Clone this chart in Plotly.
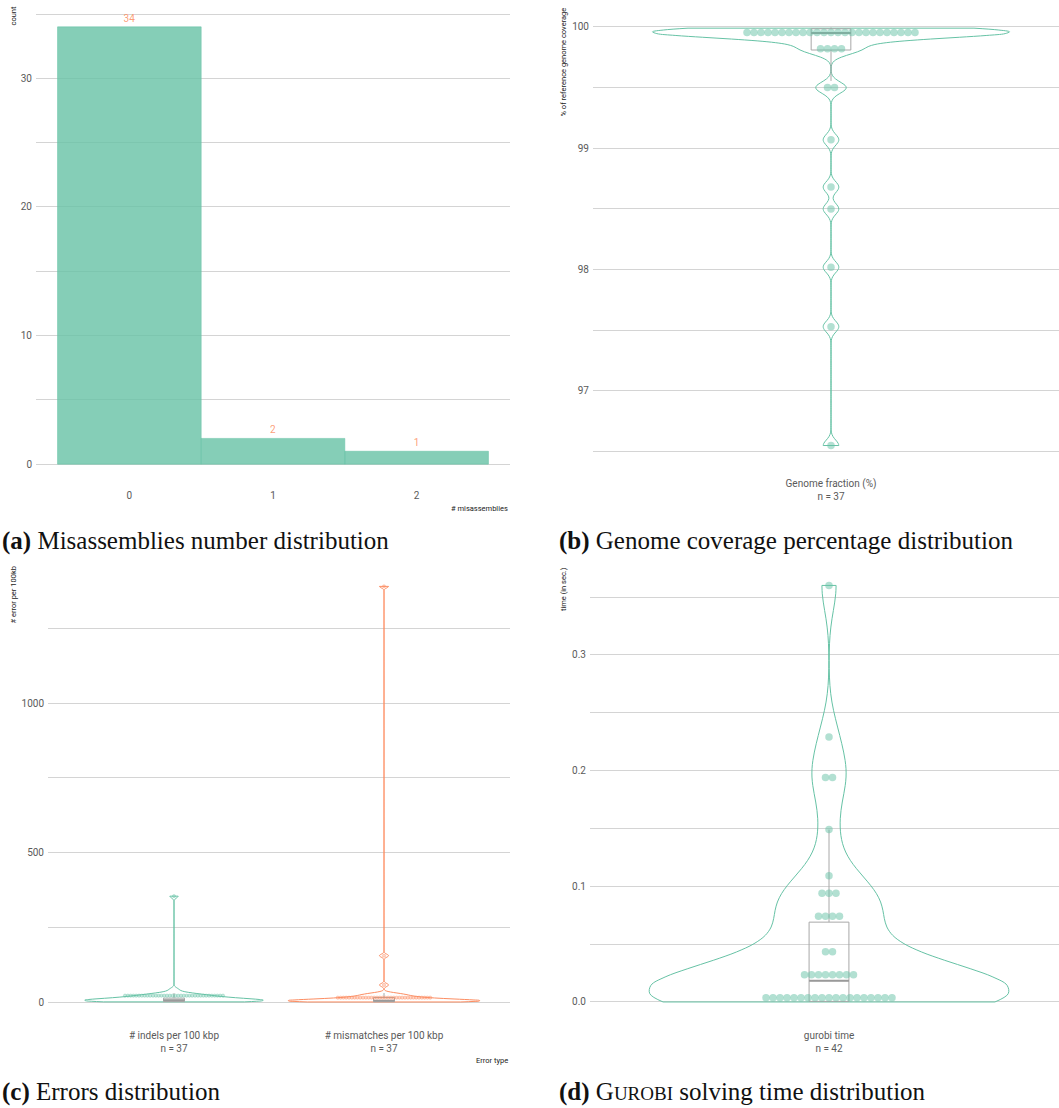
import plotly.graph_objects as go

W, H = 1059, 1108

# ---------------- data ----------------
mis_categories = [0, 1, 2]
mis_counts = [34, 2, 1]

genome_fraction = [
    99.99, 99.99, 99.98, 99.98, 99.98, 99.97, 99.97, 99.97, 99.97, 99.96,
    99.96, 99.96, 99.96, 99.96, 99.95, 99.95, 99.95, 99.95, 99.94, 99.94,
    99.94, 99.93, 99.93, 99.92, 99.92,
    99.84, 99.83, 99.81, 99.80,
    99.51, 99.49,
    99.07, 98.68, 98.50, 98.02, 97.53, 96.55,
]
genome_box = dict(q1=99.81, median=99.95, q3=99.985, lowerfence=99.555, upperfence=99.995)

error_types = ["# indels per 100 kbp", "# mismatches per 100 kbp"]
indels = [0.5, 1, 1, 1.5, 2, 2, 2.5, 3, 3, 3.5, 4, 4, 5, 5, 6, 6, 7, 7, 8, 9,
          10, 11, 12, 13, 14, 15, 16, 18, 19, 20, 22, 24, 26, 28, 30, 42, 354]
mismatches = [0.2, 0.5, 0.8, 1, 1.2, 1.5, 2, 2, 2.5, 3, 3, 3.5, 4, 4, 4.5, 5,
              5.5, 6, 6.5, 7, 8, 9, 10, 11, 12, 13, 14, 16, 18, 20, 22, 25, 27,
              29, 57, 155, 1390]
indels_box = dict(q1=1.5, median=6, q3=13, lowerfence=0.5, upperfence=30)
mismatches_box = dict(q1=1, median=4.5, q3=15, lowerfence=0.2, upperfence=30)

gurobi_time = [
    0.000, 0.001, 0.001, 0.002, 0.002, 0.003, 0.003, 0.003, 0.004, 0.004,
    0.004, 0.005, 0.005, 0.005, 0.006, 0.006, 0.007, 0.007, 0.0075,
    0.018, 0.020, 0.022, 0.023, 0.024, 0.026, 0.028, 0.029,
    0.042, 0.045,
    0.070, 0.073, 0.075, 0.078,
    0.090, 0.094, 0.098,
    0.109, 0.149, 0.192, 0.196, 0.229, 0.360,
]
gurobi_box = dict(q1=0.0005, median=0.0184, q3=0.069, lowerfence=0.0, upperfence=0.149)

# ---------------- styles ----------------
GREEN = "#66C2A5"
ORANGE = "#FC8D62"
GRID = "#d4d4d4"
TICK = "#5a5a5a"
BOXC = "#a8a8a8"
FONT = "Roboto"
SERIF = "Liberation Serif"


def pxx(x):
    return x / W


def pxy(y):
    return 1 - y / H


# plot areas in pixels (left, right, top, bottom) and axis ranges
A = dict(l=36, r=510, t=5, b=486, xr=[-0.65, 2.65], yr=[-1.7, 35.7])
B = dict(l=593, r=1059, t=7.3, b=466.4, xr=[0.4, 1.5748], yr=[96.378, 100.162])
C = dict(l=48, r=510, t=565.6, b=1022.8, xr=[0.4, 2.6], yr=[-69.5, 1459.5])
D = dict(l=590, r=1059, t=564.6, b=1022.8, xr=[0.4, 1.5774], yr=[-0.018, 0.378])


def units_per_px(P):
    return (P["xr"][1] - P["xr"][0]) / (P["r"] - P["l"])


def dot_bins(values, binwidth):
    v = sorted(values)
    bins = []
    i = 0
    while i < len(v):
        start = v[i]
        j = i
        while j < len(v) and v[j] < start + binwidth:
            j += 1
        grp = v[i:j]
        bins.append(((grp[0] + grp[-1]) / 2, len(grp)))
        i = j
    return bins


def dot_positions(values, center, binwidth, spacing_units):
    xs, ys = [], []
    for c, k in dot_bins(values, binwidth):
        for i in range(k):
            xs.append(center + (i - (k - 1) / 2) * spacing_units)
            ys.append(c)
    return xs, ys


fig = go.Figure()

# ---------------- (a) bars ----------------
fig.add_trace(go.Bar(
    x=mis_categories, y=mis_counts, width=1,
    marker=dict(color="rgba(102,194,165,0.8)", line=dict(color="rgba(102,194,165,0.9)", width=0.6)),
    text=[str(v) for v in mis_counts], textposition="outside", cliponaxis=False,
    textfont=dict(family=FONT, size=10, color="rgba(252,141,98,0.85)"),
    xaxis="x", yaxis="y", hoverinfo="skip", showlegend=False,
))


def add_violin_group(values, center, color, dotcolor, bw, vwidth, box, P, ax, binwidth,
                     spacing_px, msize, mline=None):
    fig.add_trace(go.Violin(
        x0=center, y=values, bandwidth=bw, spanmode="hard", width=vwidth,
        scalemode="width", points=False, box_visible=False, meanline_visible=False,
        line=dict(color=color, width=1), fillcolor="rgba(0,0,0,0)",
        xaxis="x" + ax, yaxis="y" + ax, hoverinfo="skip", showlegend=False,
    ))
    fig.add_trace(go.Box(
        x=[center], q1=[box["q1"]], median=[box["median"]], q3=[box["q3"]],
        lowerfence=[box["lowerfence"]], upperfence=[box["upperfence"]],
        width=0.1, whiskerwidth=0, line=dict(color=BOXC, width=1),
        fillcolor="rgba(0,0,0,0)", boxpoints=False,
        xaxis="x" + ax, yaxis="y" + ax, hoverinfo="skip", showlegend=False,
    ))
    fig.add_trace(go.Scatter(
        x=[center - 0.05, center + 0.05], y=[box["median"], box["median"]],
        mode="lines", line=dict(color="#9a9a9a", width=2),
        xaxis="x" + ax, yaxis="y" + ax, hoverinfo="skip", showlegend=False,
    ))
    xs, ys = dot_positions(values, center, binwidth, spacing_px * units_per_px(P))
    fig.add_trace(go.Scatter(
        x=xs, y=ys, mode="markers",
        marker=dict(size=msize, color=dotcolor, line=mline or dict(width=0)),
        xaxis="x" + ax, yaxis="y" + ax, hoverinfo="skip", showlegend=False,
    ))


# ---------------- (b) genome fraction ----------------
add_violin_group(genome_fraction, 1, GREEN, "rgba(102,194,165,0.5)", 0.045, 0.9,
                 genome_box, B, "2", 0.115, 7, 7.5)

# ---------------- (c) errors ----------------
add_violin_group(indels, 1, GREEN, "rgba(102,194,165,0.35)", 6, 0.85,
                 indels_box, C, "3", 46.3, 2.8, 3.2,
                 dict(color="rgba(102,194,165,0.6)", width=0.6))
add_violin_group(mismatches, 2, ORANGE, "rgba(252,141,98,0.35)", 5, 0.91,
                 mismatches_box, C, "3", 46.3, 2.8, 3.2,
                 dict(color="rgba(252,141,98,0.6)", width=0.6))

# ---------------- (d) gurobi ----------------
add_violin_group(gurobi_time, 1, GREEN, "rgba(102,194,165,0.5)", 0.022, 0.9,
                 gurobi_box, D, "4", 0.012, 7, 7.5)


def xaxis(P, tickvals, ticktext, standoff):
    return dict(domain=[pxx(P["l"]), pxx(P["r"])], range=P["xr"], showgrid=False,
                zeroline=False, showline=False, ticks="", tickvals=tickvals,
                ticktext=ticktext, tickfont=dict(family=FONT, size=10, color=TICK),
                ticklabelstandoff=standoff, fixedrange=True)


def yaxis(P, dtick, minor, fmt=None):
    d = dict(domain=[pxy(P["b"]), pxy(P["t"])], range=P["yr"], showgrid=True,
             gridcolor=GRID, gridwidth=1, zeroline=False, showline=False, ticks="",
             dtick=dtick, tick0=0, tickfont=dict(family=FONT, size=10, color=TICK),
             ticklabelstandoff=3, minor=dict(dtick=minor, tick0=0, showgrid=True,
                                             gridcolor=GRID, gridwidth=1),
             fixedrange=True)
    if fmt:
        d["tickformat"] = fmt
    return d


gf_label = "Genome fraction (%)<br>n = " + str(len(genome_fraction))
c_labels = [error_types[0] + "<br>n = " + str(len(indels)),
            error_types[1] + "<br>n = " + str(len(mismatches))]
d_label = "gurobi time<br>n = " + str(len(gurobi_time))

fig.update_layout(
    width=W, height=H, margin=dict(l=0, r=0, t=0, b=0),
    paper_bgcolor="white", plot_bgcolor="white", showlegend=False,
    violinmode="overlay", boxmode="overlay",
    xaxis=dict(xaxis(A, mis_categories, [str(c) for c in mis_categories], 2), anchor="y"),
    yaxis=dict(yaxis(A, 10, 5), anchor="x"),
    xaxis2=dict(xaxis(B, [1], [gf_label], 10), anchor="y2"),
    yaxis2=dict(yaxis(B, 1, 0.5), anchor="x2"),
    xaxis3=dict(xaxis(C, [1, 2], c_labels, 5), anchor="y3"),
    yaxis3=dict(yaxis(C, 500, 250), anchor="x3"),
    xaxis4=dict(xaxis(D, [1], [d_label], 5), anchor="y4"),
    yaxis4=dict(yaxis(D, 0.1, 0.05, ".1f"), anchor="x4"),
)

small = dict(family=FONT, size=7.5, color="#222222")
ann = []
# axis titles
ann.append(dict(text="count", x=pxx(13), y=pxy(5), xanchor="center", yanchor="top", textangle=-90))
ann.append(dict(text="% of reference genome coverage", x=pxx(563), y=pxy(6), xanchor="center", yanchor="top", textangle=-90))
ann.append(dict(text="# error per 100kb", x=pxx(13), y=pxy(565), xanchor="center", yanchor="top", textangle=-90))
ann.append(dict(text="time (in sec.)", x=pxx(563), y=pxy(565), xanchor="center", yanchor="top", textangle=-90))
ann.append(dict(text="# misassemblies", x=pxx(510), y=pxy(508), xanchor="right", yanchor="middle"))
ann.append(dict(text="Error type", x=pxx(510), y=pxy(1060), xanchor="right", yanchor="middle"))
for a in ann:
    a.update(xref="paper", yref="paper", showarrow=False, font=small)

cap = dict(family=SERIF, size=25, color="#111111")
captions = [
    ("<b>(a)</b> Misassemblies number distribution", 0, 541),
    ("<b>(b)</b> Genome coverage percentage distribution", 557, 541),
    ("<b>(c)</b> Errors distribution", 0, 1092),
    ("<b>(d)</b> G<span style='font-size:19px'>UROBI</span> solving time distribution", 557, 1092),
]
for t, x, y in captions:
    ann.append(dict(text=t, x=pxx(x), y=pxy(y), xref="paper", yref="paper",
                    xanchor="left", yanchor="middle", showarrow=False, font=cap))

fig.update_layout(annotations=ann)
fig.write_html("out.html", config={"displayModeBar": False},
               post_script="document.body.style.margin='0';document.body.style.overflow='hidden';")
